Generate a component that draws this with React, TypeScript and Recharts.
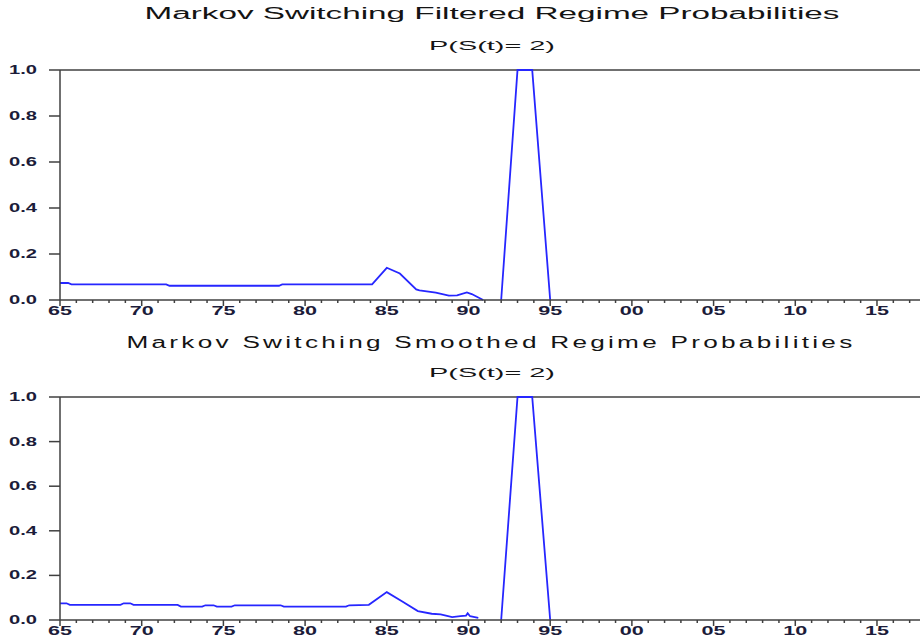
import { LineChart, Line, XAxis, YAxis, ReferenceLine } from "recharts";

// filtered probabilities P(S(t)=2)
const filteredYears = [
  1965, 1965.5, 1965.7, 1971.5, 1971.7, 1978.4, 1978.6, 1984.1, 1985.0, 1985.8,
  1986.8, 1987.0, 1988.0, 1988.8, 1989.3, 1989.9, 1990.2, 1990.9, 1991.5, 1992.0,
  1993.0, 1993.9, 1995.0,
];
const filteredProb = [
  0.074, 0.074, 0.068, 0.068, 0.062, 0.062, 0.068, 0.068, 0.14, 0.115,
  0.046, 0.042, 0.032, 0.019, 0.02, 0.033, 0.026, 0.0, null, 0.0,
  1.0, 1.0, 0.0,
];

// smoothed probabilities P(S(t)=2)
const smoothedYears = [
  1965, 1965.4, 1965.6, 1968.7, 1968.9, 1969.3, 1969.5, 1972.2, 1972.4, 1973.7,
  1973.9, 1974.4, 1974.6, 1975.5, 1975.7, 1978.5, 1978.7, 1982.5, 1982.7, 1983.9,
  1985.0, 1985.9, 1986.9, 1987.75, 1988.3, 1989.0, 1989.5, 1989.85, 1989.95, 1990.1,
  1990.6, 1991.3, 1992.0, 1993.0, 1993.9, 1995.0,
];
const smoothedProb = [
  0.075, 0.075, 0.068, 0.068, 0.075, 0.075, 0.068, 0.068, 0.06, 0.06,
  0.066, 0.066, 0.06, 0.06, 0.066, 0.066, 0.06, 0.06, 0.066, 0.068,
  0.125, 0.085, 0.04, 0.028, 0.025, 0.013, 0.017, 0.02, 0.03, 0.017,
  0.01, null, 0.0, 1.0, 1.0, 0.0,
];

const yearTicks = Array.from({ length: 53 }, (_, i) => 1965 + i);
const probTicks = [0, 0.2, 0.4, 0.6, 0.8, 1.0];

const FONT = '"Liberation Sans", Arial, sans-serif';
const AXIS = "#404040";
const LABEL = "#1c1c3a";
const BLUE = "#2626ff";

const filteredData = filteredYears.map((x, i) => ({ x, p: filteredProb[i] }));
const smoothedData = smoothedYears.map((x, i) => ({ x, p: smoothedProb[i] }));

function XTick(props: any) {
  const { x, y, payload } = props;
  const yr = payload.value as number;
  const major = yr % 5 === 0;
  return (
    <g>
      <line x1={x} x2={x} y1={y} y2={y + (major ? 6 : 3)} stroke={AXIS} strokeWidth={1.5} />
      {major && (
        <text
          x={x}
          y={y + 15}
          textAnchor="middle"
          fontFamily={FONT}
          fontSize={12}
          fontWeight={700}
          fill={LABEL}
          textLength={24}
          lengthAdjust="spacingAndGlyphs"
        >
          {String(yr % 100).padStart(2, "0")}
        </text>
      )}
    </g>
  );
}

function YTick(props: any) {
  const { x, y, payload } = props;
  return (
    <g>
      <line x1={x - 11} x2={x} y1={y} y2={y} stroke={AXIS} strokeWidth={1.5} />
      <text
        x={x - 23}
        y={y + 4}
        textAnchor="end"
        fontFamily={FONT}
        fontSize={12}
        fontWeight={700}
        fill={LABEL}
        textLength={28}
        lengthAdjust="spacingAndGlyphs"
      >
        {(payload.value as number).toFixed(1)}
      </text>
    </g>
  );
}

function Panel({ data, height, top, axisH }: { data: any[]; height: number; top: number; axisH: number }) {
  return (
    <LineChart
      width={926}
      height={height}
      data={data}
      margin={{ top, right: 0, bottom: 0, left: 0 }}
    >
      <XAxis
        type="number"
        dataKey="x"
        domain={[1965, 2018]}
        ticks={yearTicks}
        allowDataOverflow
        height={axisH}
        tickSize={0}
        tickMargin={0}
        tickLine={false}
        axisLine={{ stroke: AXIS, strokeWidth: 1.5 }}
        tick={<XTick />}
        interval={0}
      />
      <YAxis
        type="number"
        domain={[0, 1]}
        ticks={probTicks}
        width={60}
        tickSize={0}
        tickMargin={0}
        tickLine={false}
        axisLine={{ stroke: AXIS, strokeWidth: 1.5 }}
        tick={<YTick />}
        interval={0}
      />
      <ReferenceLine y={1} stroke={AXIS} strokeWidth={1.5} />
      <Line
        type="linear"
        dataKey="p"
        stroke={BLUE}
        strokeWidth={1.8}
        dot={false}
        connectNulls={false}
        isAnimationActive={false}
      />
    </LineChart>
  );
}

export default function App() {
  const titleStyle = { fontFamily: FONT, fill: "#141414" };
  return (
    <div
      style={{
        position: "absolute",
        left: 0,
        top: 0,
        width: 920,
        height: 638,
        overflow: "hidden",
        background: "#fff",
      }}
    >
      <div style={{ position: "absolute", left: 0, top: 0 }}>
        <Panel data={filteredData} height={320} top={70} axisH={20} />
      </div>
      <div style={{ position: "absolute", left: 0, top: 320 }}>
        <Panel data={smoothedData} height={318} top={77} axisH={18} />
      </div>
      <svg
        width={920}
        height={638}
        style={{ position: "absolute", left: 0, top: 0, pointerEvents: "none" }}
      >
        <text x={492} y={19} textAnchor="middle" fontSize={16} textLength={695} lengthAdjust="spacingAndGlyphs" {...titleStyle}>
          Markov Switching Filtered Regime Probabilities
        </text>
        <text x={492} y={50} textAnchor="middle" fontSize={13} textLength={126} lengthAdjust="spacingAndGlyphs" {...titleStyle}>
          P(S(t)= 2)
        </text>
        <text x={491} y={348} textAnchor="middle" fontSize={16} letterSpacing={2} textLength={729} lengthAdjust="spacingAndGlyphs" {...titleStyle}>
          Markov Switching Smoothed Regime Probabilities
        </text>
        <text x={492} y={377} textAnchor="middle" fontSize={13} textLength={126} lengthAdjust="spacingAndGlyphs" {...titleStyle}>
          P(S(t)= 2)
        </text>
      </svg>
    </div>
  );
}
